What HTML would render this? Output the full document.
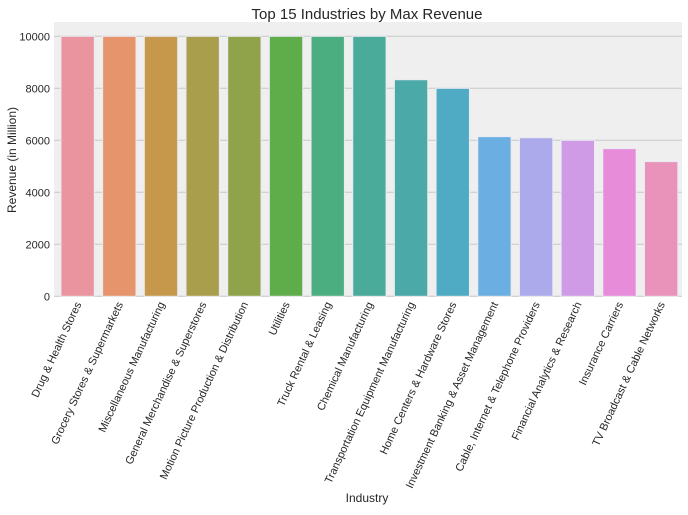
<!DOCTYPE html>
<html><head><meta charset="utf-8"><style>
body{margin:0;background:#fff;}
svg text{font-family:"Liberation Sans",Arial,sans-serif;fill:#262626;}
</style></head><body>
<svg id="chart" width="688" height="510">
<text x="367" y="19" font-size="15" text-anchor="middle">Top 15 Industries by Max Revenue</text>
<text x="367" y="502" font-size="12" text-anchor="middle">Industry</text>
<text transform="translate(16,160) rotate(-90)" font-size="12" text-anchor="middle">Revenue (in Million)</text>
<g id="plot"></g>
</svg>
<script>
const categories=["Drug & Health Stores","Grocery Stores & Supermarkets","Miscellaneous Manufacturing","General Merchandise & Superstores","Motion Picture Production & Distribution","Utilities","Truck Rental & Leasing","Chemical Manufacturing","Transportation Equipment Manufacturing","Home Centers & Hardware Stores","Investment Banking & Asset Management","Cable, Internet & Telephone Providers","Financial Analytics & Research","Insurance Carriers","TV Broadcast & Cable Networks"];
const values=[10000,10000,10000,10000,10000,10000,10000,10000,8330,8000,6140,6100,6000,5680,5180];
const yTicks=[0,2000,4000,6000,8000,10000];
const colors=["#e9949f","#e6946c","#c6984b","#a99e4b","#91a34a","#5ead4a","#4bae81","#4aab9a","#4baaa8","#4fabc3","#6aaee2","#adaaeb","#cf9ae6","#e78cd9","#e993ba"];
const L=54,R=682,BL=56.8,T=22,B=296,Y0=296.3,Y1=36.3,YMAX=10000;
const ns="http://www.w3.org/2000/svg";
const g=document.getElementById('plot');
function y(v){return Y0-(v/YMAX)*(Y0-Y1);}
const band=(R-BL)/categories.length;
function x(i){return BL+band*i;}
function mk(t,a){const e=document.createElementNS(ns,t);for(const k in a)e.setAttribute(k,a[k]);g.appendChild(e);return e;}
const bg=mk('rect',{x:L,y:T,width:R-L,height:B-T+1,fill:'#efefef'});


yTicks.forEach(t=>{
 const l=mk('line',{x1:L,x2:R,y1:y(t),y2:y(t),stroke:'#c8c8c8','stroke-width':1});
 
 
 const tx=mk('text',{x:L-4,y:y(t)+4,'font-size':11,'text-anchor':'end'});
 tx.textContent=t;
 
 
});
categories.forEach((c,i)=>{
 const w=band*0.8,bx=x(i)+band*0.1;
 const r=mk('rect',{x:bx,y:y(values[i]),width:w,height:y(0)-y(values[i]),fill:colors[i],stroke:'#eaeaf2','stroke-width':1});
 
 
 const cx=x(i)+band/2;
 const t=mk('text',{x:cx+4,y:304,'font-size':11,'text-anchor':'end',transform:`rotate(-65 ${cx+4} 304)`});
 t.textContent=c;
 
 
});
</script>
</body></html>
